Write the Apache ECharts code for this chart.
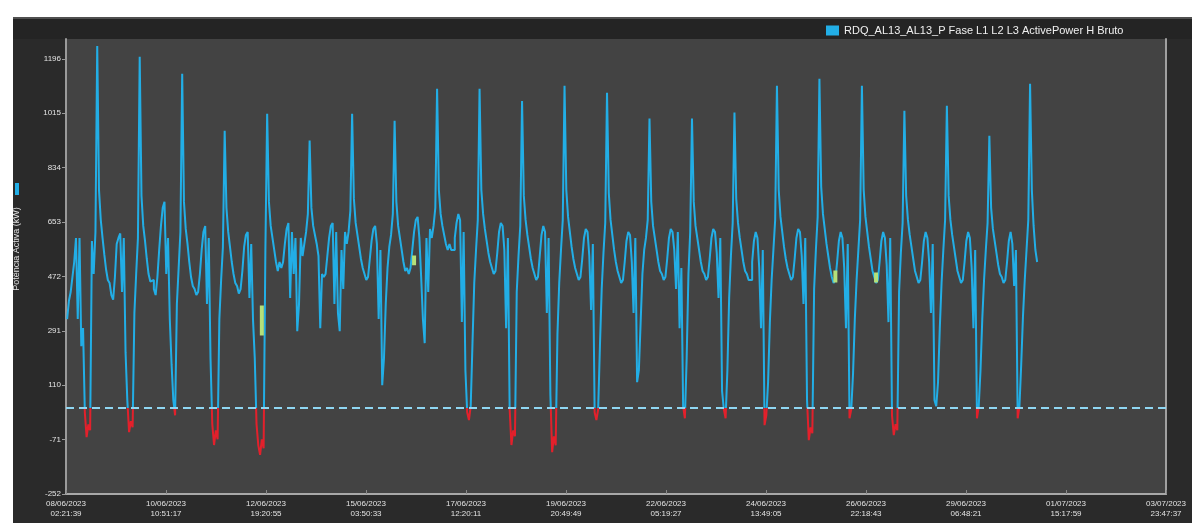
<!DOCTYPE html>
<html><head><meta charset="utf-8">
<script src="https://cdn.jsdelivr.net/npm/echarts@6/dist/echarts.min.js"></script>
<style>
html,body{margin:0;padding:0;background:#fff;width:1192px;height:523px;overflow:hidden}
#chart{position:absolute;left:13px;top:17px;width:1179px;height:506px;background:#2a2a2a}
</style></head><body><div id="chart"></div>
<script>
// ---------- data ----------
const seriesName = 'RDQ_AL13_AL13_P Fase L1 L2 L3 ActivePower H Bruto';
const yAxisTitle = 'Potência Activa (kW)';
const dataStart = '2023-06-08T03:00:00Z';   // hourly values, 03:00 .. 02:00 per row
const d0806 = [330, 390, 420, 470, 520, 600, 330, 600, 240, 300, 20, -63, -20, -40, 590, 480, 620, 1239, 760, 660, 600, 545, 495, 460];
const d0906 = [450, 410, 395, 470, 580, 600, 615, 420, 600, 220, 60, -46, -10, -30, 350, 480, 600, 1203, 740, 640, 590, 530, 480, 455];
const d1006 = [460, 430, 410, 470, 560, 640, 700, 720, 480, 600, 330, 180, 60, 10, 380, 500, 620, 1146, 720, 630, 580, 520, 470, 440];
const d1106 = [430, 410, 420, 480, 560, 620, 640, 380, 600, 200, -20, -89, -40, -70, 330, 460, 570, 957, 700, 620, 570, 520, 480, 450];
const d1206 = [440, 415, 430, 490, 570, 610, 620, 400, 580, 330, 200, -20, -90, -122, -70, -100, 560, 1013, 720, 640, 600, 560, 520, 490];
const d1306 = [520, 500, 520, 580, 630, 650, 400, 620, 480, 600, 290, 380, 600, 540, 580, 620, 680, 924, 700, 640, 610, 580, 540, 300];
const d1406 = [480, 470, 480, 540, 600, 640, 650, 380, 620, 350, 290, 560, 430, 620, 580, 620, 690, 1013, 730, 650, 610, 570, 530, 500];
const d1506 = [480, 460, 470, 530, 590, 630, 640, 580, 330, 560, 110, 200, 380, 500, 570, 610, 680, 990, 720, 640, 600, 560, 520, 490];
const d1606 = [500, 480, 500, 560, 620, 660, 670, 600, 470, 330, 250, 600, 420, 630, 600, 640, 700, 1096, 760, 680, 640, 610, 580, 560];
const d1706 = [580, 560, 560, 600, 650, 680, 660, 320, 620, 160, 20, -6, 40, 250, 450, 560, 660, 1096, 760, 680, 630, 590, 550, 520];
const d1806 = [500, 480, 490, 550, 620, 650, 640, 560, 300, 600, 30, -89, -40, -60, 420, 540, 640, 1056, 740, 660, 610, 570, 530, 500];
const d1906 = [480, 460, 470, 540, 610, 640, 620, 350, 600, 80, -113, -60, -90, 280, 450, 560, 660, 1106, 760, 670, 620, 570, 530, 500];
const d2006 = [480, 460, 470, 530, 600, 630, 620, 540, 360, 580, 20, -6, 30, 240, 430, 550, 650, 1083, 750, 660, 610, 560, 520, 490];
const d2106 = [470, 450, 460, 520, 590, 620, 610, 520, 350, 600, 120, 160, 320, 480, 560, 600, 660, 997, 720, 640, 600, 560, 520, 490];
const d2206 = [480, 460, 470, 530, 600, 630, 620, 560, 430, 620, 300, 500, 40, 0, 200, 480, 620, 997, 720, 640, 600, 560, 520, 490];
const d2306 = [480, 460, 470, 530, 600, 630, 620, 550, 400, 600, 90, 30, 0, 160, 400, 540, 650, 1017, 730, 650, 600, 560, 520, 490];
const d2406 = [480, 460, 460, 520, 590, 620, 600, 500, 300, 560, -23, 10, 120, 320, 460, 560, 660, 1106, 760, 670, 620, 570, 530, 500];
const d2506 = [480, 460, 470, 530, 600, 630, 620, 540, 380, 600, 60, -73, -30, -50, 430, 560, 670, 1130, 770, 680, 630, 580, 540, 500];
const d2606 = [470, 450, 460, 520, 590, 620, 600, 500, 300, 580, 0, 30, 150, 330, 460, 560, 660, 1106, 760, 670, 620, 570, 530, 490];
const d2706 = [470, 450, 460, 520, 590, 620, 600, 510, 320, 600, 10, -56, -20, -40, 420, 550, 650, 1023, 740, 660, 610, 570, 530, 490];
const d2806 = [470, 450, 460, 520, 590, 620, 600, 520, 350, 580, 60, 40, 120, 300, 450, 560, 660, 1040, 740, 660, 610, 570, 530, 490];
const d2906 = [470, 450, 460, 520, 590, 620, 600, 500, 300, 560, 0, 40, 160, 330, 460, 560, 650, 940, 700, 630, 590, 550, 510, 480];
const d3006 = [470, 450, 460, 520, 590, 620, 580, 440, 560, 0, 40, 180, 340, 460, 560, 660, 1113, 760, 640, 560, 520];

// flagged (green) segments
const greenTimes = ['2023-06-12T17:00:00Z', '2023-06-16T07:00:00Z', '2023-06-26T05:00:00Z', '2023-06-27T04:00:00Z'];
const greenFrom  = [375, 542, 492, 485];
const greenTo    = [275, 509, 452, 452];

const threshold = 35;            // dashed reference line; values below drawn in red
const yTicks = [-252, -71, 110, 291, 472, 653, 834, 1015, 1196];
const yMax = 1262;
const xFirstTick = '2023-06-08T02:21:39Z';
const xTickStepSeconds = 203378;
const xTickLabels = [
  '08/06/2023\n02:21:39', '10/06/2023\n10:51:17', '12/06/2023\n19:20:55', '15/06/2023\n03:50:33',
  '17/06/2023\n12:20:11', '19/06/2023\n20:49:49', '22/06/2023\n05:19:27', '24/06/2023\n13:49:05',
  '26/06/2023\n22:18:43', '29/06/2023\n06:48:21', '01/07/2023\n15:17:59', '03/07/2023\n23:47:37'
];

// ---------- build ----------
const power = [].concat(d0806, d0906, d1006, d1106, d1206, d1306, d1406, d1506, d1606, d1706, d1806, d1906,
  d2006, d2106, d2206, d2306, d2406, d2506, d2606, d2706, d2806, d2906, d3006);
const t0 = Date.parse(dataStart);
const mainData = power.map((v, i) => [t0 + i * 3600000, v]);
const greenData = [];
greenTimes.forEach((t, i) => {
  const ts = Date.parse(t);
  greenData.push([ts, greenFrom[i]], [ts, greenTo[i]], [ts, null]);
});
const xMin = Date.parse(xFirstTick);
const xStep = xTickStepSeconds * 1000;
const xMax = xMin + xStep * (xTickLabels.length - 1);
const blue = '#22aee6';
const red = '#e3202b';
const font = "'Liberation Sans', Arial, sans-serif";

const chart = echarts.init(document.getElementById('chart'));
const option = {
  animation: false,
  backgroundColor: '#2a2a2a',
  textStyle: { fontFamily: font },
  grid: { left: 53, right: 26, top: 22, bottom: 29, show: true, backgroundColor: '#434343', borderWidth: 0 },
  legend: {
    left: 813, top: 8, padding: 0, itemWidth: 13, itemHeight: 10, itemGap: 6,
    textStyle: { color: '#f0f0f0', fontSize: 11, fontFamily: font },
    data: [{ name: seriesName, icon: 'rect', itemStyle: { color: blue } }]
  },
  xAxis: {
    type: 'value', min: xMin, max: xMax, interval: xStep,
    axisLine: { onZero: false, lineStyle: { color: '#a8a8a8', width: 2 } },
    axisTick: { inside: true, length: 4, lineStyle: { color: '#8a8a8a' } },
    splitLine: { show: false },
    axisLabel: {
      color: '#e2e2e2', fontSize: 8, lineHeight: 10, margin: 5, hideOverlap: false,
      showMinLabel: true, showMaxLabel: true,
      formatter: v => { const k = Math.round((v - xMin) / xStep); return xTickLabels[k] || ''; }
    }
  },
  yAxis: [{
    type: 'value', min: yTicks[0], max: yMax, interval: yTicks[1] - yTicks[0],
    axisLine: { show: true, onZero: false, lineStyle: { color: '#9a9a9a', width: 2 } },
    axisTick: { show: true, length: 4, lineStyle: { color: '#9a9a9a' } },
    splitLine: { show: false },
    axisLabel: {
      color: '#e2e2e2', fontSize: 8, margin: 5, showMaxLabel: false,
      formatter: v => (yTicks.indexOf(Math.round(v)) >= 0 ? String(Math.round(v)) : '')
    }
  }, {
    type: 'value', position: 'right', min: yTicks[0], max: yMax,
    axisLine: { show: true, onZero: false, lineStyle: { color: '#a0a0a0', width: 2 } },
    axisTick: { show: false }, axisLabel: { show: false }, splitLine: { show: false }
  }],
  graphic: [
    { type: 'rect', left: 0, top: 0, shape: { width: 1179, height: 22 }, style: { fill: '#242424' }, silent: true, z: -1 },
    { type: 'rect', left: 0, top: 0, shape: { width: 1179, height: 2 }, style: { fill: '#505050' }, silent: true },
    { type: 'rect', left: 2, top: 166, shape: { width: 4, height: 12 }, style: { fill: blue }, silent: true },
    { type: 'text', x: 4, y: 232, rotation: Math.PI / 2, silent: true,
      style: { text: yAxisTitle, fill: '#e2e2e2', font: "9px 'Liberation Sans', Arial", align: 'center', verticalAlign: 'middle' } }
  ],
  series: [{
    name: seriesName, type: 'line', step: 'end', showSymbol: false, symbol: 'none',
    data: mainData, lineStyle: { width: 2, color: blue }, itemStyle: { color: blue },
    markLine: {
      silent: true, symbol: 'none', label: { show: false },
      lineStyle: { color: '#8fd6f2', type: [8, 5], width: 2 },
      data: [{ yAxis: threshold }]
    }
  }, {
    name: 'flag', type: 'line', showSymbol: false, symbol: 'none', connectNulls: false,
    data: greenData, lineStyle: { width: 4, color: '#b4e07a' }, itemStyle: { color: '#b4e07a' }
  }]
};
chart.setOption(option);
// colour the line red below the threshold (pixel-space gradient split at the threshold)
const yPix = chart.convertToPixel({ yAxisIndex: 0 }, threshold);
const H = 506;
const off = Math.min(Math.max(yPix / H, 0), 1);
chart.setOption({
  series: [{
    lineStyle: {
      color: new echarts.graphic.LinearGradient(0, 0, 0, H, [
        { offset: 0, color: blue }, { offset: off, color: blue },
        { offset: off, color: red }, { offset: 1, color: red }
      ], true)
    }
  }]
});
</script></body></html>
